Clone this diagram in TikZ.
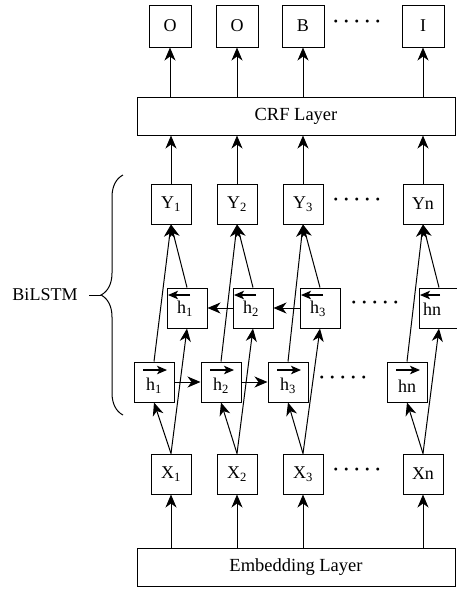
\documentclass[tikz,border=0pt]{standalone}
\usepackage{fontspec}
\setmainfont{Liberation Serif}
\usetikzlibrary{arrows.meta,decorations.pathreplacing}
\begin{document}
\begin{tikzpicture}[x=1pt,y=-1pt,
  box/.style={draw,line width=1pt,minimum width=40pt,minimum height=40pt,inner sep=0pt,font=\fontsize{18}{20}\selectfont},
  hlab/.style={inner sep=0pt,font=\fontsize{18}{20}\selectfont},
  layer/.style={draw,line width=1pt,minimum width=318pt,minimum height=38pt,inner sep=0pt,font=\fontsize{18.5}{20}\selectfont},
  arr/.style={line width=1pt,-{Stealth[length=13pt,width=11pt,inset=4pt]}},
  harr/.style={line width=1.2pt,-{Stealth[length=10pt,width=8.5pt,inset=2.5pt]}},
  dots/.style={font=\fontsize{18}{20}\selectfont\bfseries}]
\useasboundingbox (0,0) rectangle (456,590);
% output row
\node[box,minimum width=42pt,minimum height=42pt] (o1) at (170,26) {O};
\node[box,minimum width=42pt,minimum height=42pt] (o2) at (237,26) {O};
\node[box,minimum width=42pt,minimum height=42pt] (o3) at (303,26) {B};
\node[box,minimum width=42pt,minimum height=42pt] (o4) at (423,26) {I};
\node[dots] (d1) at (357,24) {· · · · ·};
% CRF
\node[layer] (crf) at (296,116) {CRF Layer};
% Y row
\node[box] (y1) at (171,204) {$\mathrm{Y}_{\mathrm{1}}$};
\node[box] (y2) at (237,204) {$\mathrm{Y}_{\mathrm{2}}$};
\node[box] (y3) at (303,204) {$\mathrm{Y}_{\mathrm{3}}$};
\node[box] (y4) at (423,204) {Yn};
\node[dots] (d2) at (357,202) {· · · · ·};
% backward row
\node[box] (b1) at (187,308) {};
\node[box] (b2) at (253,308) {};
\node[box] (b3) at (320,308) {};
\node[box] (b4) at (439,308) {};
\node[hlab] (b1t) at ([xshift=-2pt,yshift=-1pt]b1.center) {$\mathrm{h}_{\mathrm{1}}$};
\node[hlab] (b2t) at ([xshift=-2pt,yshift=-1pt]b2.center) {$\mathrm{h}_{\mathrm{2}}$};
\node[hlab] (b3t) at ([xshift=-2pt,yshift=-1pt]b3.center) {$\mathrm{h}_{\mathrm{3}}$};
\node[hlab] (b4t) at ([xshift=-7pt,yshift=-1pt]b4.center) {hn};
\node[dots] (d3) at (375,305) {· · · · ·};
% forward row
\node[box] (f1) at (154,382) {};
\node[box] (f2) at (221,382) {};
\node[box] (f3) at (288,382) {};
\node[box] (f4) at (407,382) {};
\node[hlab] (f1t) at ([yshift=-4pt]f1.center) {$\mathrm{h}_{\mathrm{1}}$};
\node[hlab] (f2t) at ([yshift=-4pt]f2.center) {$\mathrm{h}_{\mathrm{2}}$};
\node[hlab] (f3t) at ([yshift=-4pt]f3.center) {$\mathrm{h}_{\mathrm{3}}$};
\node[hlab] (f4t) at ([yshift=-4pt]f4.center) {hn};
\node[dots] (d4) at (343,380) {· · · · ·};
% arrows over h
\foreach \n in {f1,f2,f3,f4}{
  \draw[harr] ([xshift=-11pt,yshift=12pt]\n.center) -- ([xshift=13pt,yshift=12pt]\n.center);
}
\foreach \n in {b1,b2,b3}{
  \draw[harr] ([xshift=3pt,yshift=13pt]\n.center) -- ([xshift=-19pt,yshift=13pt]\n.center);
}
\draw[harr] ([xshift=1pt,yshift=13pt]b4.center) -- ([xshift=-19pt,yshift=13pt]b4.center);
% X row
\node[box] (x1) at (171,474) {$\mathrm{X}_{\mathrm{1}}$};
\node[box] (x2) at (237,474) {$\mathrm{X}_{\mathrm{2}}$};
\node[box] (x3) at (303,474) {$\mathrm{X}_{\mathrm{3}}$};
\node[box] (x4) at (423,474) {Xn};
\node[dots] (d5) at (357,472) {· · · · ·};
% embedding
\node[layer] (emb) at (296,567.5) {Embedding Layer};
% arrows
\foreach \i in {1,2,3,4}{
  \draw[arr] (emb.north -| x\i.south) -- (x\i.south);
  \draw[arr] (x\i.north) -- (f\i.south);
  \draw[arr] (x\i.north) -- (b\i.south);
  \draw[arr] (f\i.north) -- (y\i.south);
  \draw[arr] (b\i.north) -- (y\i.south);
  \draw[arr] (y\i.north) -- (crf.south -| y\i.north);
  \draw[arr] (crf.north -| o\i.south) -- (o\i.south);
}
\draw[arr] (f1.east) -- (f2.west);
\draw[arr] (f2.east) -- (f3.west);
\draw[arr] (b3.west) -- (b2.east);
\draw[arr] (b2.west) -- (b1.east);
% brace
\coordinate (bb) at (123,415);
\coordinate (bt) at (123,175);
\draw[line width=1pt,decorate,decoration={brace,amplitude=22pt}] (bb) -- (bt);
\node[font=\fontsize{18}{20}\selectfont] (lab) at (45,295) {BiLSTM};
\coordinate (tick) at (101,295);
\draw[line width=1pt] (lab.east) ++(8,0) -- (tick);
\end{tikzpicture}
\end{document}
